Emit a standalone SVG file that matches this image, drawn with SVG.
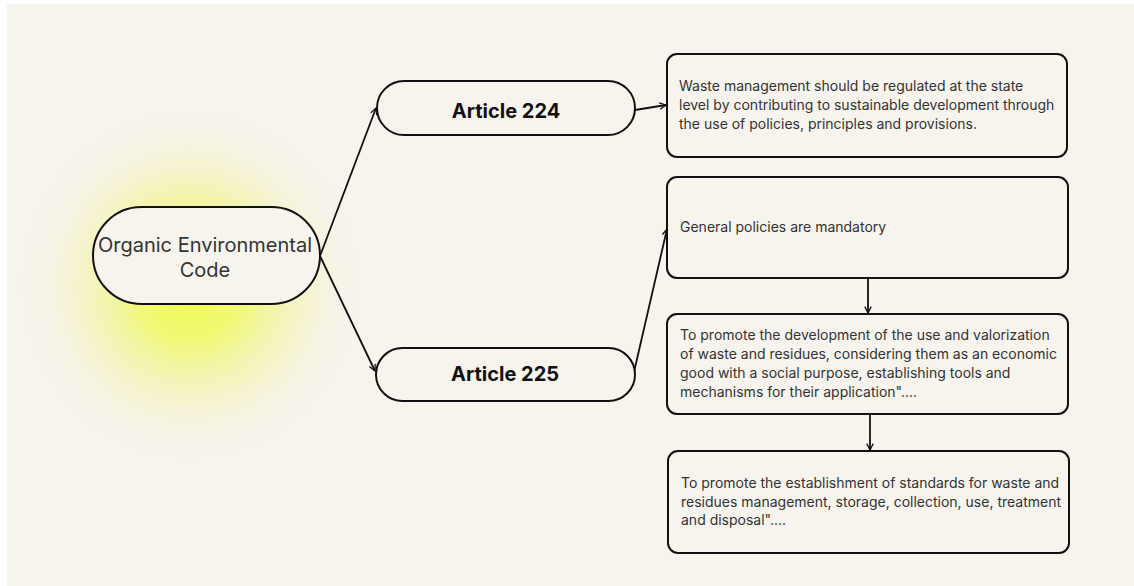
<svg xmlns="http://www.w3.org/2000/svg" width="1134" height="586" viewBox="0 0 1134 586">
<defs>
<radialGradient id="glow" cx="0.5" cy="0.5" r="0.5">
<stop offset="0" stop-color="#eefc4a" stop-opacity="1"/>
<stop offset="0.3" stop-color="#effa5e" stop-opacity="0.85"/>
<stop offset="0.6" stop-color="#f1f49a" stop-opacity="0.5"/>
<stop offset="0.85" stop-color="#f5f3d0" stop-opacity="0.2"/>
<stop offset="1" stop-color="#f7f3ed" stop-opacity="0"/>
</radialGradient>
<marker id="arr" viewBox="0 0 10 10" refX="9" refY="5" markerWidth="8" markerHeight="8" markerUnits="userSpaceOnUse" orient="auto">
<path d="M1,1 L9,5 L1,9" fill="none" stroke="#111" stroke-width="1.6"/>
</marker>
<style>
.node{fill:#f7f3ed;stroke:#111;stroke-width:2}
.t{font-family:Inter,"Noto Sans","Liberation Sans",sans-serif;fill:#333}
.c{font-size:20px;text-anchor:middle}
.a{font-size:20px;font-weight:700;fill:#111;text-anchor:middle}
.b{font-size:14px}
.conn{fill:none;stroke:#111;stroke-width:1.8;marker-end:url(#arr)}
</style>
</defs>
<rect x="0" y="0" width="1134" height="586" fill="#ffffff"/>
<rect x="7" y="4" width="1127" height="582" fill="#f7f3ed"/>
<ellipse cx="190" cy="285" rx="175" ry="180" fill="url(#glow)"/>
<g id="connectors">
<path class="conn" d="M320,256 L376,108"/>
<path class="conn" d="M320,256 L375,371"/>
<path class="conn" d="M635,110 L666,105"/>
<path class="conn" d="M634,372 L667,229"/>
<path class="conn" d="M868,278 L868,313"/>
<path class="conn" d="M870,414 L870,450"/>
</g>
<g id="central">
<rect class="node" x="93" y="207" width="227" height="97" rx="48.5"/>
<text class="t c" x="205" y="252">Organic Environmental</text>
<text class="t c" x="205" y="277">Code</text>
</g>
<g id="article224">
<rect class="node" x="377" y="81" width="258" height="54" rx="27"/>
<text class="t a" x="506" y="118">Article 224</text>
</g>
<g id="article225">
<rect class="node" x="376" y="348" width="259" height="53" rx="26.5"/>
<text class="t a" x="505" y="381">Article 225</text>
</g>
<g id="box1">
<rect class="node" x="667" y="54" width="400" height="103" rx="10"/>
<text class="t b" x="679" y="91">Waste management should be regulated at the state</text>
<text class="t b" x="679" y="110">level by contributing to sustainable development through</text>
<text class="t b" x="679" y="129">the use of policies, principles and provisions.</text>
</g>
<g id="box2">
<rect class="node" x="667" y="177" width="401" height="101" rx="10"/>
<text class="t b" x="680" y="232">General policies are mandatory</text>
</g>
<g id="box3">
<rect class="node" x="667" y="314" width="401" height="100" rx="10"/>
<text class="t b" x="680" y="340">To promote the development of the use and valorization</text>
<text class="t b" x="680" y="359">of waste and residues, considering them as an economic</text>
<text class="t b" x="680" y="378">good with a social purpose, establishing tools and</text>
<text class="t b" x="680" y="397">mechanisms for their application"....</text>
</g>
<g id="box4">
<rect class="node" x="668" y="451" width="401" height="102" rx="10"/>
<text class="t b" x="681" y="488">To promote the establishment of standards for waste and</text>
<text class="t b" x="681" y="507">residues management, storage, collection, use, treatment</text>
<text class="t b" x="681" y="525">and disposal"....</text>
</g>
</svg>
